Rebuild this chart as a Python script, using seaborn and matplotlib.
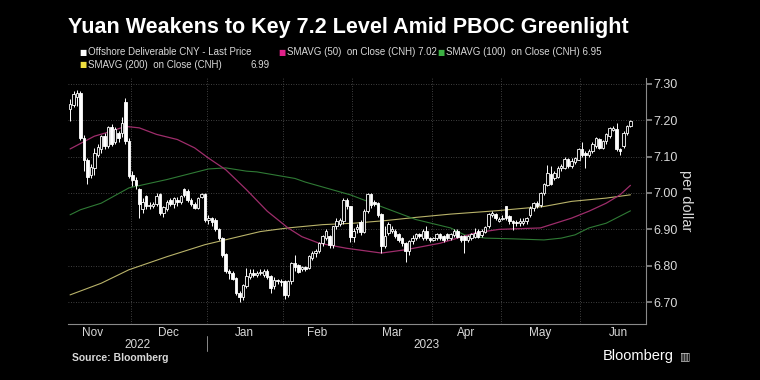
import numpy as np
import pandas as pd
import matplotlib
matplotlib.use("Agg")
import matplotlib.pyplot as plt
import matplotlib.transforms as mtransforms
import seaborn as sns

# USD/CNH daily candles, Nov 7 2022 .. Jun 21 2023
START = "2022-11-07"

open_ = [
    7.230, 7.243, 7.265, 7.275, 7.150, 7.090, 7.050, 7.070, 7.105, 7.120,
    7.155, 7.130, 7.180, 7.140, 7.165, 7.165, 7.248, 7.142, 7.048, 7.036,
    7.010, 6.955, 6.990, 6.965, 6.965, 6.970, 6.995, 6.945, 6.955, 6.980,
    6.970, 6.980, 6.975, 7.010, 7.005, 6.980, 6.970, 6.960, 6.990, 6.995,
    6.925, 6.930, 6.925, 6.900, 6.876, 6.830, 6.785, 6.780, 6.765, 6.724,
    6.715, 6.745, 6.770, 6.780, 6.775, 6.780, 6.775, 6.785, 6.770, 6.745,
    6.760, 6.757, 6.757, 6.720, 6.757, 6.807, 6.800, 6.790, 6.795, 6.793,
    6.820, 6.835, 6.840, 6.862, 6.876, 6.880, 6.857, 6.908, 6.915, 6.922,
    6.980, 6.963, 6.880, 6.900, 6.920, 6.894, 6.950, 6.995, 6.975, 6.972,
    6.940, 6.855, 6.890, 6.895, 6.895, 6.885, 6.876, 6.862, 6.840, 6.868,
    6.876, 6.885, 6.876, 6.894, 6.876, 6.872, 6.876, 6.885, 6.882, 6.885,
    6.876, 6.885, 6.894, 6.880, 6.880, 6.870, 6.876, 6.880, 6.894, 6.885,
    6.894, 6.908, 6.940, 6.942, 6.924, 6.928, 6.963, 6.935, 6.922, 6.920,
    6.917, 6.917, 6.922, 6.940, 6.958, 6.972, 6.967, 7.000, 7.023, 7.050,
    7.042, 7.045, 7.068, 7.070, 7.092, 7.073, 7.085, 7.092, 7.120, 7.110,
    7.105, 7.115, 7.128, 7.147, 7.124, 7.142, 7.156, 7.174, 7.174, 7.120,
    7.128, 7.165, 7.183,
]
high = [
    7.257, 7.280, 7.282, 7.280, 7.160, 7.095, 7.080, 7.125, 7.135, 7.160,
    7.165, 7.185, 7.190, 7.180, 7.170, 7.210, 7.262, 7.150, 7.060, 7.045,
    7.015, 6.985, 6.995, 6.975, 6.975, 7.000, 7.000, 6.965, 6.980, 6.985,
    6.990, 6.990, 6.995, 7.015, 7.010, 6.985, 6.975, 6.990, 7.000, 7.000,
    6.940, 6.935, 6.930, 6.905, 6.880, 6.835, 6.790, 6.785, 6.770, 6.730,
    6.750, 6.795, 6.790, 6.790, 6.785, 6.790, 6.790, 6.790, 6.775, 6.770,
    6.765, 6.765, 6.760, 6.760, 6.810, 6.830, 6.805, 6.800, 6.800, 6.830,
    6.840, 6.845, 6.865, 6.885, 6.900, 6.885, 6.910, 6.930, 6.930, 6.985,
    6.985, 6.965, 6.905, 6.915, 6.925, 6.955, 7.000, 7.000, 6.980, 6.975,
    6.945, 6.910, 6.920, 6.910, 6.900, 6.890, 6.880, 6.865, 6.870, 6.885,
    6.890, 6.890, 6.900, 6.910, 6.880, 6.880, 6.890, 6.890, 6.885, 6.890,
    6.890, 6.900, 6.900, 6.885, 6.885, 6.885, 6.890, 6.905, 6.900, 6.900,
    6.910, 6.945, 6.950, 6.945, 6.935, 6.940, 6.965, 6.940, 6.925, 6.925,
    6.930, 6.930, 6.935, 6.965, 6.975, 6.978, 7.003, 7.028, 7.078, 7.075,
    7.060, 7.075, 7.080, 7.100, 7.095, 7.095, 7.100, 7.125, 7.140, 7.115,
    7.120, 7.140, 7.155, 7.150, 7.145, 7.165, 7.180, 7.185, 7.193, 7.125,
    7.170, 7.188, 7.200,
]
low = [
    7.197, 7.235, 7.240, 7.145, 7.060, 7.025, 7.040, 7.050, 7.100, 7.110,
    7.120, 7.125, 7.130, 7.135, 7.140, 7.155, 7.135, 7.040, 7.020, 7.010,
    6.930, 6.945, 6.955, 6.955, 6.960, 6.965, 6.940, 6.935, 6.950, 6.965,
    6.960, 6.965, 6.970, 6.990, 6.975, 6.965, 6.955, 6.955, 6.985, 6.920,
    6.915, 6.910, 6.895, 6.870, 6.825, 6.780, 6.765, 6.760, 6.720, 6.700,
    6.705, 6.740, 6.765, 6.770, 6.770, 6.775, 6.770, 6.765, 6.725, 6.735,
    6.750, 6.745, 6.710, 6.715, 6.750, 6.785, 6.780, 6.785, 6.785, 6.790,
    6.815, 6.825, 6.835, 6.855, 6.870, 6.850, 6.850, 6.900, 6.910, 6.915,
    6.955, 6.865, 6.865, 6.890, 6.885, 6.890, 6.945, 6.960, 6.965, 6.935,
    6.835, 6.850, 6.885, 6.890, 6.875, 6.865, 6.855, 6.810, 6.830, 6.860,
    6.870, 6.875, 6.870, 6.870, 6.865, 6.868, 6.872, 6.870, 6.865, 6.870,
    6.870, 6.880, 6.875, 6.865, 6.835, 6.865, 6.870, 6.875, 6.875, 6.880,
    6.890, 6.905, 6.935, 6.925, 6.920, 6.925, 6.925, 6.915, 6.898, 6.910,
    6.910, 6.912, 6.915, 6.935, 6.950, 6.958, 6.962, 6.995, 7.018, 7.023,
    7.035, 7.040, 7.060, 7.065, 7.070, 7.070, 7.080, 7.090, 7.100, 7.068,
    7.100, 7.110, 7.125, 7.120, 7.120, 7.135, 7.150, 7.170, 7.115, 7.105,
    7.125, 7.160, 7.180,
]
close = [
    7.243, 7.270, 7.275, 7.152, 7.090, 7.045, 7.070, 7.110, 7.125, 7.155,
    7.130, 7.180, 7.135, 7.175, 7.150, 7.190, 7.142, 7.046, 7.036, 7.022,
    6.970, 6.975, 6.965, 6.965, 6.970, 6.990, 6.945, 6.960, 6.975, 6.970,
    6.985, 6.975, 6.990, 6.995, 6.980, 6.970, 6.960, 6.985, 6.995, 6.925,
    6.930, 6.920, 6.900, 6.876, 6.830, 6.785, 6.780, 6.765, 6.724, 6.715,
    6.745, 6.770, 6.780, 6.775, 6.780, 6.782, 6.785, 6.770, 6.740, 6.760,
    6.757, 6.755, 6.720, 6.757, 6.807, 6.798, 6.784, 6.795, 6.792, 6.825,
    6.835, 6.840, 6.862, 6.880, 6.894, 6.857, 6.908, 6.922, 6.925, 6.980,
    6.963, 6.880, 6.895, 6.905, 6.894, 6.950, 6.995, 6.968, 6.970, 6.940,
    6.853, 6.880, 6.913, 6.900, 6.881, 6.872, 6.862, 6.840, 6.867, 6.876,
    6.885, 6.882, 6.894, 6.876, 6.872, 6.876, 6.885, 6.876, 6.872, 6.876,
    6.885, 6.894, 6.880, 6.870, 6.870, 6.880, 6.885, 6.890, 6.880, 6.894,
    6.905, 6.940, 6.943, 6.930, 6.928, 6.930, 6.930, 6.922, 6.917, 6.917,
    6.922, 6.922, 6.930, 6.958, 6.972, 6.963, 7.000, 7.023, 7.055, 7.025,
    7.055, 7.068, 7.072, 7.092, 7.073, 7.087, 7.096, 7.120, 7.105, 7.105,
    7.115, 7.133, 7.151, 7.124, 7.142, 7.160, 7.178, 7.178, 7.120, 7.115,
    7.165, 7.183, 7.197,
]

# moving averages, read at a handful of trading days
sma50_day = [0, 7, 12, 16, 20, 25, 31, 36, 40, 45, 51, 57, 63, 67, 72, 80,
             90, 97, 107, 117, 124, 136, 145, 150, 155, 159, 162]
sma50 = [7.121, 7.156, 7.170, 7.183, 7.179, 7.161, 7.147, 7.124, 7.096, 7.064,
         7.009, 6.950, 6.904, 6.880, 6.862, 6.848, 6.835, 6.844, 6.862, 6.890,
         6.900, 6.904, 6.931, 6.950, 6.972, 6.995, 7.021]
sma100_day = [0, 3, 9, 17, 28, 40, 45, 51, 54, 65, 68, 81, 91, 100, 110, 114,
              120, 128, 137, 142, 146, 150, 155, 162]
sma100 = [6.940, 6.954, 6.972, 7.014, 7.037, 7.066, 7.069, 7.060, 7.058, 7.040,
          7.030, 6.995, 6.959, 6.927, 6.904, 6.885, 6.876, 6.874, 6.871, 6.876,
          6.885, 6.904, 6.917, 6.951]
sma200_day = [0, 9, 17, 28, 39, 55, 63, 73, 82, 91, 100, 110, 123, 137, 145,
              155, 162]
sma200 = [6.720, 6.752, 6.789, 6.825, 6.858, 6.894, 6.904, 6.913, 6.917, 6.924,
          6.933, 6.942, 6.951, 6.963, 6.977, 6.986, 6.995]

months = ["Nov", "Dec", "Jan", "Feb", "Mar", "Apr", "May", "Jun"]
years = ["2022", "2023"]
y_ticks = [6.70, 6.80, 6.90, 7.00, 7.10, 7.20, 7.30]

C_BG = "#000000"
C_TXT = "#d9d9d9"
C_AXIS = "#8a8a8a"
C_GRID = "#555555"
C_MAG = "#9e2d6b"
C_GRN = "#2f7a35"
C_YEL = "#b9b36a"

sns.set_theme(style="dark", rc={
    "figure.facecolor": C_BG, "axes.facecolor": C_BG, "savefig.facecolor": C_BG,
    "text.color": C_TXT, "xtick.color": C_TXT, "ytick.color": C_TXT,
    "axes.edgecolor": C_AXIS,
})
plt.rcParams["font.family"] = ["Liberation Sans", "DejaVu Sans"]

df = pd.DataFrame({"open": open_, "high": high, "low": low, "close": close})
df["day"] = np.arange(len(df))
days = pd.bdate_range(START, periods=len(df))

fig = plt.figure(figsize=(7.6, 3.8), dpi=100)
AX_BOTTOM = 324
ax = fig.add_axes([68 / 760, 1 - AX_BOTTOM / 380, (646 - 68) / 760, (AX_BOTTOM - 78) / 380])

# candles: hollow = up, filled = down
up = df["close"] >= df["open"]
ax.vlines(df["day"], df["low"], df["high"], color="white", lw=0.7, zorder=3)
ax.bar(df["day"][up], (df["close"] - df["open"])[up] + 0.001, bottom=df["open"][up],
       width=0.72, facecolor=C_BG, edgecolor="white", lw=0.6, zorder=4)
ax.bar(df["day"][~up], (df["open"] - df["close"])[~up] + 0.001, bottom=df["close"][~up],
       width=0.72, facecolor="white", edgecolor="white", lw=0.6, zorder=4)

sns.lineplot(x=sma200_day, y=sma200, color=C_YEL, lw=0.8, ax=ax, zorder=2)
sns.lineplot(x=sma100_day, y=sma100, color=C_GRN, lw=0.8, ax=ax, zorder=2)
sns.lineplot(x=sma50_day, y=sma50, color=C_MAG, lw=0.9, ax=ax, zorder=2)

# month boundaries and centres (business days, full calendar months)
month_start = np.flatnonzero(np.r_[True, days.month[1:] != days.month[:-1]])
bounds = month_start[1:] - 0.5
full = pd.bdate_range("2022-11-01", "2023-06-30")
pos = np.busday_count(np.datetime64(START), full.values.astype("datetime64[D]"))
centres = pd.Series(pos).groupby(full.to_period("M")).mean().values

ax.set_xlim(-0.6, 166.5)
ax.set_ylim(6.640, 7.316)
ax.set_xticks(bounds)
ax.set_xticklabels([])
ax.set_xticks(centres, minor=True)
ax.set_xticklabels(months, minor=True, fontsize=8.5)
ax.tick_params(axis="x", which="major", length=3, color=C_AXIS, direction="out")
ax.tick_params(axis="x", which="minor", length=0, pad=2)

ax.yaxis.tick_right()
ax.set_yticks(y_ticks)
ax.set_yticklabels([f"{v:.2f}" for v in y_ticks], fontsize=9)
ax.tick_params(axis="y", length=4, color=C_AXIS, pad=1, direction="out")
ax.yaxis.set_label_position("right")
ax.set_ylabel("per dollar", rotation=270, labelpad=11, fontsize=10.5, color=C_TXT)

ax.grid(True, which="major", color=C_GRID, linestyle=(0, (1, 2)), lw=0.6)
for side in ["top", "left"]:
    ax.spines[side].set_visible(False)
for side in ["right", "bottom"]:
    ax.spines[side].set_color(C_AXIS)
    ax.spines[side].set_linewidth(0.8)

# year labels under the months
trans = mtransforms.blended_transform_factory(ax.transData, ax.transAxes)
ax_h = AX_BOTTOM - 78
split = bounds[1]
ax.text((ax.get_xlim()[0] + split) / 2, -(345 - AX_BOTTOM) / ax_h, years[0],
        transform=trans, ha="center", va="center", fontsize=8.5)
ax.text((split + ax.get_xlim()[1]) / 2, -(345 - AX_BOTTOM) / ax_h, years[1],
        transform=trans, ha="center", va="center", fontsize=8.5)
ax.plot([split, split], [-(336 - AX_BOTTOM) / ax_h, -(351 - AX_BOTTOM) / ax_h],
        transform=trans, color=C_AXIS, lw=0.7, clip_on=False)

# title and legend
fig.text(68 / 760, 1 - 27 / 380, "Yuan Weakens to Key 7.2 Level Amid PBOC Greenlight",
         fontsize=15.5, weight="bold", color="white", va="center")

legend_rows = [
    (79, 52, "white", "Offshore Deliverable CNY - Last Price"),
    (278, 52, "#e0218a", "SMAVG (50)  on Close (CNH) 7.02"),
    (437, 52, "#3cb043", "SMAVG (100)  on Close (CNH) 6.95"),
    (79, 65, "#f0e040", "SMAVG (200)  on Close (CNH)"),
]
for x, y, col, label in legend_rows:
    fig.text(x / 760, 1 - y / 380, "■", color=col, fontsize=5.5, va="center",
             family="DejaVu Sans")
    fig.text((x + 9) / 760, 1 - y / 380, label, color=C_TXT, fontsize=7, va="center")
fig.text(250 / 760, 1 - 65 / 380, "6.99", color=C_TXT, fontsize=7, va="center")

fig.text(72 / 760, 1 - 358 / 380, "Source: Bloomberg", fontsize=7.5, weight="bold",
         color=C_TXT, va="center")
fig.text(674 / 760, 1 - 356 / 380, "Bloomberg", fontsize=10.5, color="white",
         va="center", ha="right")
fig.text(680 / 760, 1 - 356 / 380, "▥", fontsize=8, color="#cccccc", va="center",
         family="DejaVu Sans")

fig.savefig("out.png", dpi=100)
